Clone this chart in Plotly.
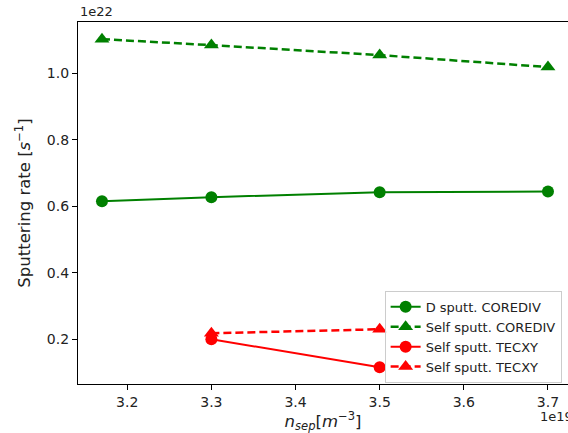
import plotly.graph_objects as go

# x in units of 1e19 m^-3, y in units of 1e22 s^-1
x_coretdiv = [3.17, 3.3, 3.5, 3.7]
d_sputt_corediv = [0.615, 0.627, 0.642, 0.644]
self_sputt_corediv = [1.102, 1.084, 1.054, 1.018]
x_tecxy = [3.3, 3.5]
self_sputt_tecxy_circ = [0.200, 0.116]
self_sputt_tecxy_tri = [0.218, 0.230]

names = ["D sputt. COREDIV", "Self sputt. COREDIV", "Self sputt. TECXY", "Self sputt. TECXY"]

GREEN = "#008000"
RED = "#ff0000"
FONT = "DejaVu Sans"

fig = go.Figure()
fig.add_trace(go.Scatter(x=x_coretdiv, y=d_sputt_corediv, name=names[0], mode="lines+markers",
                         line=dict(color=GREEN, width=2), marker=dict(symbol="circle", size=12, color=GREEN)))
fig.add_trace(go.Scatter(x=x_coretdiv, y=self_sputt_corediv, name=names[1], mode="lines+markers",
                         line=dict(color=GREEN, width=2.5, dash="8px,4px"),
                         marker=dict(symbol="triangle-up", size=13, color=GREEN)))
fig.add_trace(go.Scatter(x=x_tecxy, y=self_sputt_tecxy_circ, name=names[2], mode="lines+markers",
                         line=dict(color=RED, width=2), marker=dict(symbol="circle", size=12, color=RED)))
fig.add_trace(go.Scatter(x=x_tecxy, y=self_sputt_tecxy_tri, name=names[3], mode="lines+markers",
                         line=dict(color=RED, width=2.5, dash="8px,4px"),
                         marker=dict(symbol="triangle-up", size=13, color=RED)))

axis_common = dict(showgrid=False, zeroline=False, showline=True, linecolor="black", linewidth=1.2,
                   ticks="outside", ticklen=5, tickcolor="black", tickwidth=1,
                   tickfont=dict(family=FONT, size=14, color="#222"))

fig.update_layout(
    width=568, height=433,
    margin=dict(l=78, r=0, t=22, b=49),
    plot_bgcolor="white", paper_bgcolor="white",
    font=dict(family=FONT, color="#222"),
    xaxis=dict(range=[3.1415, 3.7238], tickvals=[3.2, 3.3, 3.4, 3.5, 3.6, 3.7],
               ticktext=["3.2", "3.3", "3.4", "3.5", "3.6", "3.7"], mirror=True,
               title=dict(text="<i>n</i><sub><i>sep</i></sub>[<i>m</i><sup>−3</sup>]",
                          font=dict(family=FONT, size=16.5), standoff=4),
               **axis_common),
    yaxis=dict(range=[0.0655, 1.1535], tickvals=[0.2, 0.4, 0.6, 0.8, 1.0],
               ticktext=["0.2", "0.4", "0.6", "0.8", "1.0"],
               title=dict(text="Sputtering rate [<i>s</i><sup>−1</sup>]",
                          font=dict(family=FONT, size=16.5), standoff=12),
               **axis_common),
    legend=dict(x=0.987, y=0.003, xanchor="right", yanchor="bottom",
                bgcolor="rgba(255,255,255,0.8)", bordercolor="#cccccc", borderwidth=1,
                font=dict(family=FONT, size=13, color="#222"), tracegroupgap=0, itemwidth=30),
    showlegend=True,
)
fig.add_annotation(text="1e22", xref="paper", yref="paper", x=0, y=1, xanchor="left", yanchor="bottom",
                   yshift=1, showarrow=False, font=dict(family=FONT, size=13, color="#222"))
fig.add_annotation(text="1e19", xref="paper", yref="paper", x=1, y=0, xanchor="left", yanchor="top",
                   xshift=-30, yshift=-23, showarrow=False, font=dict(family=FONT, size=13, color="#222"))

fig.write_html("out.html", config={"displayModeBar": False},
               post_script="document.body.style.margin='0';document.body.style.overflow='hidden';")
